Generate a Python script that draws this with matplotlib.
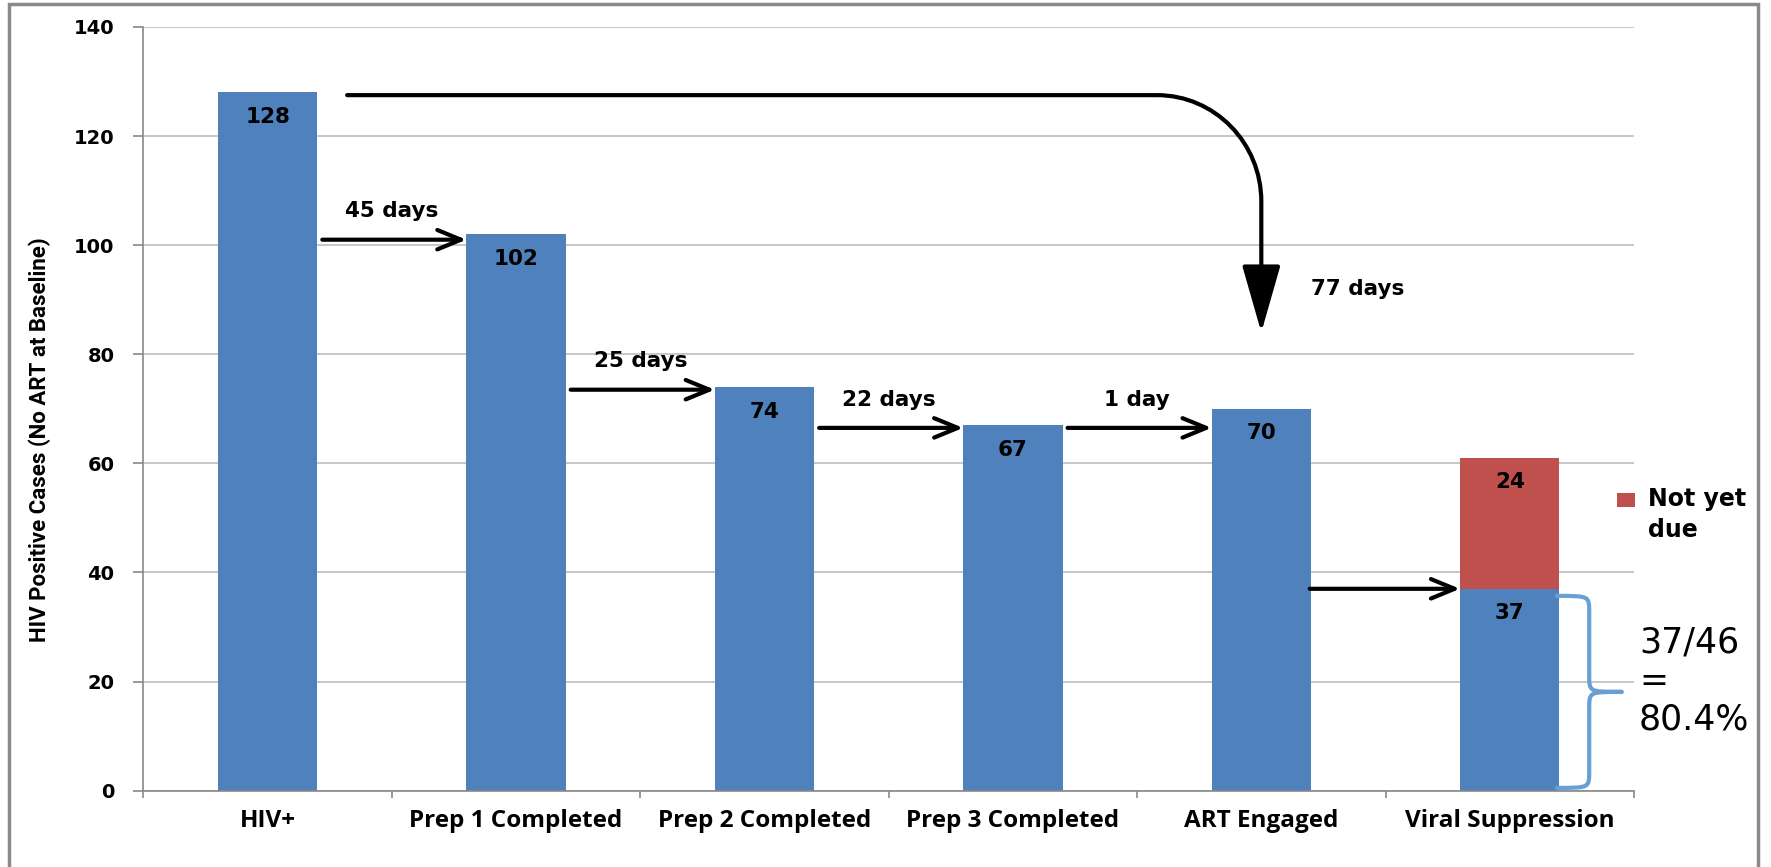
import matplotlib.pyplot as plt
import numpy as np
from matplotlib.patches import FancyArrowPatch, ArrowStyle, PathPatch, Rectangle
from matplotlib.path import Path

# cascade data
stages = ['HIV+', 'Prep 1 Completed', 'Prep 2 Completed', 'Prep 3 Completed',
          'ART Engaged', 'Viral Suppression']
cases = [128, 102, 74, 67, 70, 37]
not_yet_due = [0, 0, 0, 0, 0, 24]

# time between steps
step_days = ['45 days', '25 days', '22 days', '1 day']
step_arrow_y = [101, 73.5, 66.5, 66.5]
total_days = '77 days'
suppressed, eligible = 37, 46

blue = '#4F81BD'
red = '#C0504D'
brace_col = '#6A9FD4'

fig = plt.figure(figsize=(17.71, 8.67), dpi=100)
ax = fig.add_axes([0.081, 0.0881, 0.8416, 0.8808])

x = np.arange(len(stages))
w = 0.4
ax.bar(x, cases, width=w, color=blue, zorder=2)
red_bars = ax.bar(x[5:], not_yet_due[5:], width=w, bottom=cases[5:], color=red, zorder=2)

# value labels inside the top of each bar
for i, v in enumerate(cases):
    ax.text(i, v - 4.5, str(v), ha='center', va='center', fontsize=15.5,
            fontweight='bold', zorder=4)
ax.text(5, cases[5] + not_yet_due[5] - 4.5, str(not_yet_due[5]), ha='center',
        va='center', fontsize=15.5, fontweight='bold', zorder=4)

# axes styling
ax.set_xlim(-0.5, 5.5)
ax.set_ylim(0, 140)
ax.set_yticks(np.arange(0, 141, 20))
ax.yaxis.grid(True, color='#BEBEBE', lw=1.2, zorder=0)
ax.set_axisbelow(True)
for s in ['top', 'right']:
    ax.spines[s].set_visible(False)
for s in ['left', 'bottom']:
    ax.spines[s].set_color('#888888')
    ax.spines[s].set_linewidth(1.2)
ax.tick_params(axis='y', length=7, width=1.2, color='#888888', pad=14, labelsize=14)
for lab in ax.get_yticklabels():
    lab.set_fontweight('bold')
ax.set_xticks(x)
ax.set_xticklabels(stages, fontsize=17.5, fontweight='bold', family='Open Sans')
ax.set_xticks(np.arange(-0.5, 5.6, 1), minor=True)
ax.tick_params(axis='x', which='major', length=0, pad=13)
ax.tick_params(axis='x', which='minor', length=5, width=1.2, color='#888888')
ax.set_ylabel('HIV Positive Cases (No ART at Baseline)', fontsize=16,
              fontweight='bold', family='Roboto')
ax.yaxis.set_label_coords(-0.062, 0.46)

# arrows between consecutive stages
arrow = ArrowStyle('->', head_length=17, head_width=7)
for i, (lab, yy) in enumerate(zip(step_days, step_arrow_y)):
    ax.add_patch(FancyArrowPatch((i + w / 2 + 0.02, yy), (i + 1 - w / 2, yy),
                                 arrowstyle=arrow, mutation_scale=1, lw=3,
                                 color='black', shrinkA=0, shrinkB=0, zorder=5))
    ax.text(i + 0.5, yy + 5.2, lab, ha='center', va='center', fontsize=15.5,
            fontweight='bold')
ax.add_patch(FancyArrowPatch((4 + w / 2 - 0.005, cases[5]), (5 - w / 2, cases[5]),
                             arrowstyle=arrow, mutation_scale=1, lw=3,
                             color='black', shrinkA=0, shrinkB=0, zorder=5))

# long arrow from HIV+ straight to ART Engaged
yh = cases[0] - 0.5
verts = [(0.32, yh), (3.58, yh), (3.58 + 0.5523 * 0.42, yh),
         (4.0, 108 + 0.5523 * 19.5), (4.0, 108), (4.0, 84)]
codes = [Path.MOVETO, Path.LINETO, Path.CURVE4, Path.CURVE4, Path.CURVE4, Path.LINETO]
ax.add_patch(FancyArrowPatch(path=Path(verts, codes),
                             arrowstyle=ArrowStyle('-|>', head_length=42, head_width=12),
                             mutation_scale=1, lw=3, color='black', zorder=5))
ax.text(4.2, 92, total_days, ha='left', va='center', fontsize=15.5, fontweight='bold')

# brace around the suppressed part
bx0, bx1, bx2 = 5 + w / 2 - 0.01, 5.32, 5.45
top, bot = cases[5] - 1.3, 0.5
mid = (top + bot) / 2
bverts = [(bx0, top), (bx1, top), (bx1, top), (bx1, top - 3),
          (bx1, mid + 3),
          (bx1, mid), (bx1, mid), (bx2, mid),
          (bx1, mid), (bx1, mid), (bx1, mid - 3),
          (bx1, bot + 3),
          (bx1, bot), (bx1, bot), (bx0, bot)]
bcodes = [Path.MOVETO, Path.CURVE4, Path.CURVE4, Path.CURVE4,
          Path.LINETO,
          Path.CURVE4, Path.CURVE4, Path.CURVE4,
          Path.CURVE4, Path.CURVE4, Path.CURVE4,
          Path.LINETO,
          Path.CURVE4, Path.CURVE4, Path.CURVE4]
ax.add_patch(PathPatch(Path(bverts, bcodes), fill=False, ec=brace_col, lw=3,
                       clip_on=False, zorder=5, capstyle='round', joinstyle='round'))
ax.text(5.52, 20.1, f'{suppressed}/{eligible}\n=\n{suppressed / eligible:.1%}',
        ha='left', va='center', fontsize=25, linespacing=1.17)

leg_size, leg_spacing = 17, 1.33
leg = ax.legend([red_bars], ['Not yet\ndue'], loc='upper left',
                bbox_to_anchor=(0.913, 0.438), bbox_transform=fig.transFigure,
                frameon=False, borderpad=0, borderaxespad=0, handlelength=0.78,
                handleheight=0.54, handletextpad=0.53,
                prop={'weight': 'bold', 'size': leg_size})
for t in leg.get_texts():
    t.set_linespacing(leg_spacing)
# line the swatch up with the first line of the label
for h in leg.legend_handles:
    h.set_y(h.get_y() + leg_size * leg_spacing / 2)

# outer chart border
fig.patches.append(Rectangle((9 / 1771, -0.01), 1749 / 1771, 1 - 4 / 867 + 0.01,
                             transform=fig.transFigure, fill=False,
                             ec='#8A8A8A', lw=2.5))

fig.savefig('out.png', dpi=100)
